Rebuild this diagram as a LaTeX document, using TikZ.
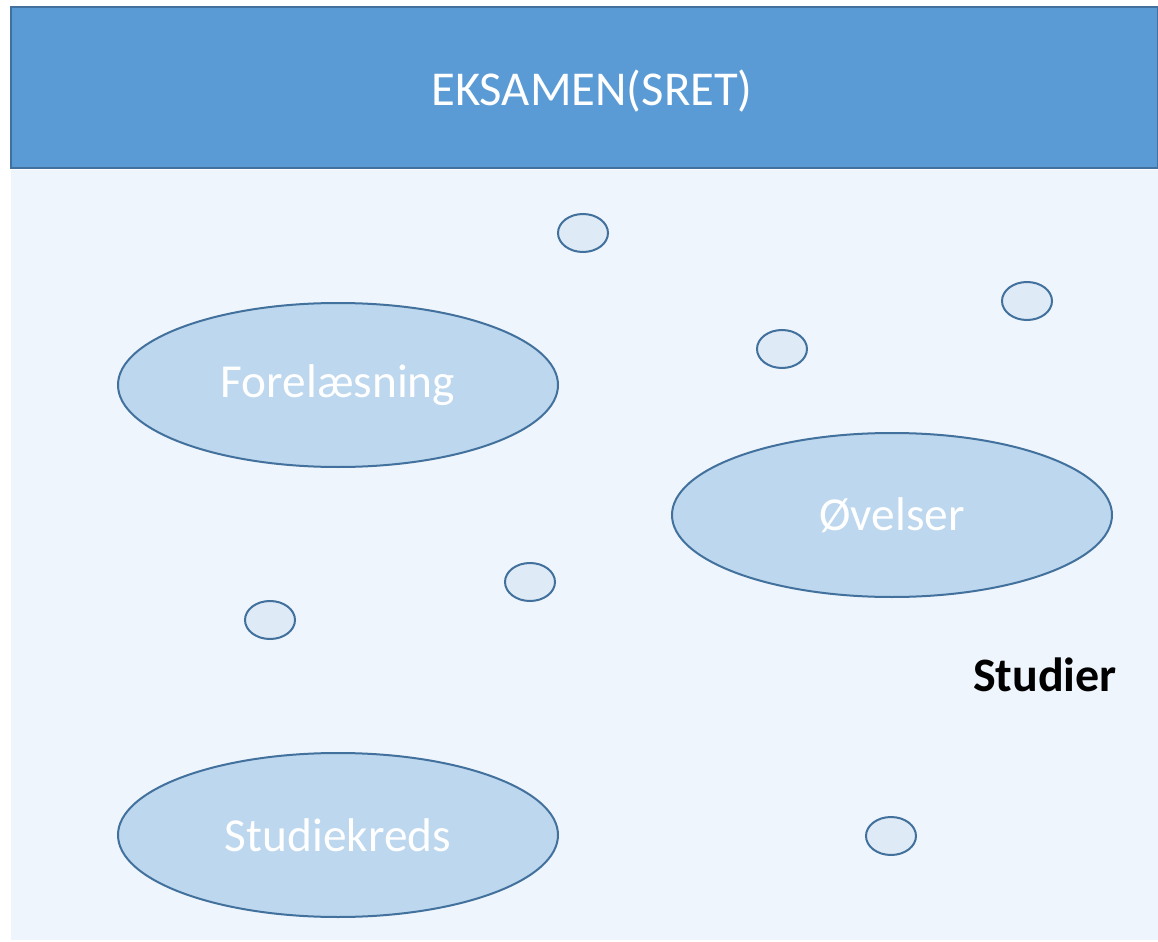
\documentclass[tikz,border=0pt]{standalone}
\usepackage{fontspec}
\setmainfont{Carlito}
\definecolor{hdr}{HTML}{5B9BD5}
\definecolor{edge}{HTML}{41719C}
\definecolor{bg}{HTML}{EEF5FC}
\definecolor{big}{HTML}{BDD7EE}
\definecolor{small}{HTML}{DEEAF6}
\tikzset{
  bigell/.style={ellipse, draw=edge, fill=big, line width=1.5pt, minimum width=440*0.75pt, minimum height=164*0.75pt, inner sep=0pt, text=white, font=\fontsize{35.5}{40}\selectfont},
  dot/.style={ellipse, draw=edge, fill=small, line width=1.5pt, minimum width=50*0.75pt, minimum height=38*0.75pt, inner sep=0pt},
}
\usetikzlibrary{shapes.geometric}
\begin{document}
\begin{tikzpicture}[x=0.75pt,y=-0.75pt]
\useasboundingbox (0,0) rectangle (1158,942);
\fill[bg] (11,170) rectangle (1158,940);
\node[draw=edge, fill=hdr, line width=1.5pt, minimum width=1147*0.75pt, minimum height=161*0.75pt, inner sep=0pt] (header) at (584.5,88) {};
\node[text=white, font=\fontsize{36.5}{42}\selectfont, inner sep=0pt] (htitle) at (592,91) {EKSAMEN(SRET)};
\node[bigell] (forel) at (338,385) {Forelæsning};
\node[bigell] (ovel) at (892,515) {Øvelser};
\node[bigell] (stud) at (338,835) {Studiekreds};
\node[dot] (d1) at (583,233) {};
\node[dot] (d2) at (1027,301) {};
\node[dot] (d3) at (782,349) {};
\node[dot] (d4) at (530,582) {};
\node[dot] (d5) at (270,620) {};
\node[dot] (d6) at (891,836) {};
\node[font=\bfseries\fontsize{36}{40}\selectfont] (studier) at (1045,675) {Studier};
\end{tikzpicture}
\end{document}
